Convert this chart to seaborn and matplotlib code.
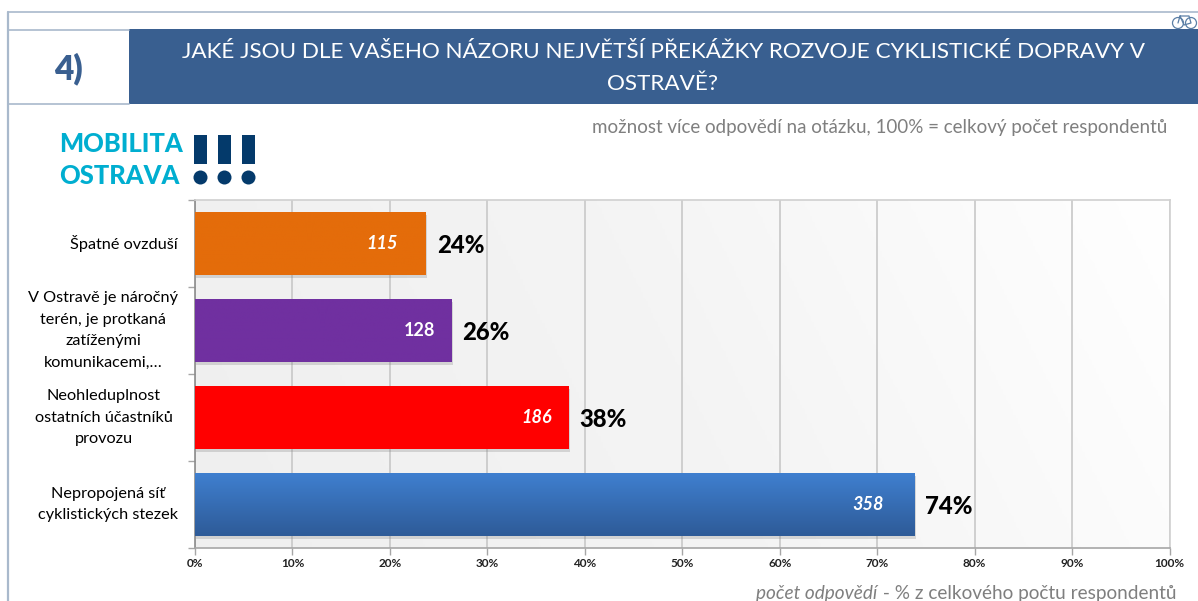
import numpy as np
import pandas as pd
import matplotlib
matplotlib.use("Agg")
import matplotlib.pyplot as plt
import seaborn as sns
from matplotlib.patches import Rectangle, Circle
from matplotlib.colors import LinearSegmentedColormap
import matplotlib.patheffects as pe

categories = ["Špatné ovzduší",
              "V Ostravě je náročný\nterén, je protkaná\nzatíženými\nkomunikacemi,…",
              "Neohleduplnost\nostatních účastníků\nprovozu",
              "Nepropojená síť\ncyklistických stezek"]
percent = [23.7, 26.3, 38.3, 73.8]
counts = ["115", "128", "186", "358"]
pct_labels = ["24%", "26%", "38%", "74%"]
count_styles = ["italic", "normal", "italic", "italic"]
bar_top = ["#E46C0A", "#7030A0", "#FF0000", "#3F7FCF"]
bar_bottom = ["#E46C0A", "#7030A0", "#FF0000", "#2E5B98"]
ticks = list(range(0, 101, 10))

sns.set_theme(style="white")
plt.rcParams['font.family'] = ['Lato', 'DejaVu Sans']
W, H = 1198, 601
fig = plt.figure(figsize=(W / 100, H / 100), dpi=100, facecolor="white")

# page decoration in pixel coordinates
bg = fig.add_axes([0, 0, 1, 1], zorder=0)
bg.set_xlim(0, W); bg.set_ylim(H, 0); bg.axis("off")
frame = "#A9B9CC"
bg.plot([8, 8], [12, H], color=frame, lw=1.6)
bg.plot([8, W], [12, 12], color=frame, lw=1.2)
bg.plot([8, 129], [29.5, 29.5], color=frame, lw=1.2)
bg.plot([8, 129], [103.5, 103.5], color=frame, lw=1.2)
bg.add_patch(Rectangle((129, 29), W - 129, 75, color="#395F90", lw=0))
bg.text(68.5, 69, "4)", color="#395F90", fontsize=24, fontweight="heavy", ha="center", va="center")
bg.text(663, 68, "JAKÉ JSOU DLE VAŠEHO NÁZORU NEJVĚTŠÍ PŘEKÁŽKY ROZVOJE CYKLISTICKÉ DOPRAVY V\nOSTRAVĚ?",
        color="white", fontsize=16.2, ha="center", va="center", linespacing=1.72)
bg.text(1167, 128, "možnost více odpovědí na otázku, 100% = celkový počet respondentů",
        color="#7F7F7F", fontsize=13.5, ha="right", va="center")
bg.text(59, 143.5, "MOBILITA", color="#00AED0", fontsize=18.4, fontweight="black", va="center")
bg.text(59, 175.5, "OSTRAVA", color="#00AED0", fontsize=18.4, fontweight="black", va="center")
for lx in (194, 218, 242):
    bg.add_patch(Rectangle((lx, 135), 13, 29, color="#043A6B", lw=0))
    bg.add_patch(Circle((lx + 6.5, 177.5), 7, color="#043A6B", lw=0))
# small bicycle
bike = "#5B7FA6"
bg.add_patch(Circle((1178, 23), 5.5, fill=False, ec=bike, lw=0.9, zorder=5))
bg.add_patch(Circle((1191, 23), 5.5, fill=False, ec=bike, lw=0.9, zorder=5))
bg.plot([1178, 1180, 1189, 1191, 1184, 1180], [23, 16, 16, 23, 25, 16], color=bike, lw=0.9, zorder=5)

# chart
x0, x1, y_top, y_bot = 195, 1169.5, 200, 548
ax = fig.add_axes([x0 / W, 1 - y_bot / H, (x1 - x0) / W, (y_bot - y_top) / H], zorder=1)
df = pd.DataFrame({"kategorie": categories, "procenta": percent})
sns.barplot(data=df, y="kategorie", x="procenta", hue="kategorie", palette=bar_top,
            order=categories, legend=False, width=0.72, ax=ax, saturation=1, zorder=3)
ax.set_xlabel(""); ax.set_ylabel("")

# soft diagonal background gradient
bgcmap = LinearSegmentedColormap.from_list("bg", ["#EFEFEF", "#F4F4F4", "#FFFFFF"])
gx, gy = np.meshgrid(np.linspace(0, 1, 400), np.linspace(0, 1, 120))
ax.imshow(gx * 0.85 + (1 - gy) * 0.15, extent=(0, 100, 3.5, -0.5), cmap=bgcmap,
          aspect="auto", zorder=0, vmin=0, vmax=1)
ax.set_xticks(ticks)
ax.set_xticklabels([f"{t}%" for t in ticks], fontsize=8.5, fontweight="bold", color="#222222")
ax.set_yticks([-0.5, 0.5, 1.5, 2.5, 3.5])
ax.set_yticklabels([])
ax.tick_params(axis="both", length=5, width=1, color="#A6A6A6", direction="out", left=True, bottom=True)
ax.tick_params(axis="x", pad=2)
ax.grid(axis="x", color="#C8C8C8", lw=1.2, zorder=1)
ax.set_axisbelow(True)
for name, sp in ax.spines.items():
    sp.set_visible(True); sp.set_color("#D0D0D0"); sp.set_linewidth(1.2)
ax.spines["left"].set_color("#8C8C8C"); ax.spines["bottom"].set_color("#A6A6A6")

# category labels (placed in pixels to the left of the axis)
label_centers = [124, 103, 104, 108]
label_spacing = [1.3, 1.68, 1.68, 1.55]
for i, c in enumerate(categories):
    ax.annotate(c, xy=(0, i), xytext=(label_centers[i] - x0, 0), textcoords="offset pixels",
                ha="center", va="center", fontsize=11.7, color="black",
                linespacing=label_spacing[i], annotation_clip=False)

# bars: shadow, gradient, labels
count_offset = [4.5, 3.3, 3.2, 4.7]
for i, patch in enumerate(ax.patches):
    patch.set_edgecolor("none")
    patch.set_path_effects([pe.SimplePatchShadow(offset=(1, -2), shadow_rgbFace="#777777", alpha=0.25), pe.Normal()])
    bx, by, bw, bh = patch.get_x(), patch.get_y(), patch.get_width(), patch.get_height()
    cmap = LinearSegmentedColormap.from_list(f"b{i}", [bar_top[i], bar_bottom[i]])
    ax.imshow(np.linspace(0, 1, 64)[:, None], extent=(bx, bx + bw, by + bh, by), cmap=cmap,
              aspect="auto", zorder=4)
    ax.text(bw - count_offset[i], i + 0.0, counts[i], color="white", fontsize=13,
            fontstyle=count_styles[i], fontweight="bold", ha="center", va="center", zorder=5)
    ax.text(bw + 1.1, i + 0.02, pct_labels[i], color="black", fontsize=17.2, fontweight="black",
            ha="left", va="center", zorder=5)
ax.set_xlim(0, 100); ax.set_ylim(3.5, -0.5)

t1 = fig.text(1176 / W, 1 - 593 / H, " - % z celkového počtu respondentů", color="#7F7F7F", fontsize=13.7,
              ha="right", va="center")
fig.canvas.draw()
bb = t1.get_window_extent()
fig.text(bb.x0 / W, 1 - 593 / H, "počet odpovědí", color="#7F7F7F", fontsize=13.7, fontstyle="italic",
         ha="right", va="center")
fig.savefig("out.png", dpi=100)
